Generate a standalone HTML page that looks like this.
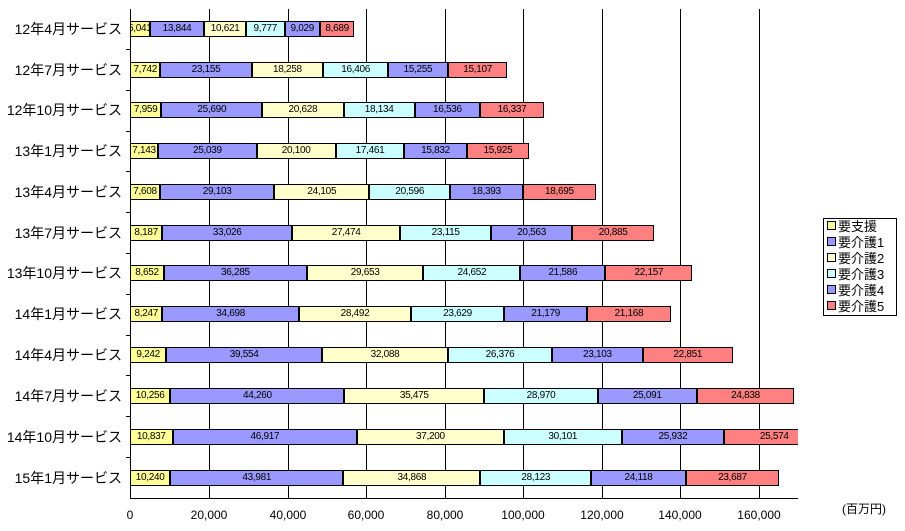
<!DOCTYPE html><html><head><meta charset="utf-8"><style>
body{margin:0;width:905px;height:531px;background:#fff;position:relative;overflow:hidden;font-family:"Liberation Sans","Noto Sans CJK JP",sans-serif}
.g{position:absolute;top:9px;height:490px;width:1px;background:#000}
.ax{position:absolute;background:#000}
.tick{position:absolute;left:126px;width:4px;height:1px;background:#000}
.lab{position:absolute;left:0;width:122px;text-align:right;font-size:14px;line-height:16px;white-space:nowrap}
.bar{position:absolute;left:130px;width:668px;height:16px;overflow:hidden;white-space:nowrap;display:flex}
.bar div{flex:none;height:16px;box-sizing:border-box;border:1px solid #000;font-size:10px;line-height:14px;text-align:center;overflow:hidden;letter-spacing:-0.3px}
.bar div.v{overflow:visible;text-indent:-3px}
.a{background:#ffff99}.b{background:#9999ff}.c{background:#ffffcc}.d{background:#ccffff}.e{background:#9999ff}.f{background:#ff8080}
.xl{position:absolute;top:508px;font-size:12px;width:80px;text-align:center}
.leg{position:absolute;left:823px;top:218px;width:72px;height:96px;border:1px solid #000;background:#fff;font-size:13px}
.leg p{margin:0;height:16px;line-height:16px;padding-left:3px}
.leg span{display:inline-block;width:7px;height:7px;border:1px solid #000;margin-right:2px;vertical-align:1px}
</style></head><body>
<div class="g" style="left:209px"></div><div class="g" style="left:288px"></div><div class="g" style="left:366px"></div><div class="g" style="left:445px"></div><div class="g" style="left:523px"></div><div class="g" style="left:602px"></div><div class="g" style="left:680px"></div><div class="g" style="left:759px"></div>
<div class="ax" style="left:130px;top:9px;width:1px;height:490px"></div>
<div class="ax" style="left:130px;top:498px;width:668px;height:1px"></div>
<div class="tick" style="top:49px"></div><div class="tick" style="top:90px"></div><div class="tick" style="top:131px"></div><div class="tick" style="top:171px"></div><div class="tick" style="top:212px"></div><div class="tick" style="top:253px"></div><div class="tick" style="top:294px"></div><div class="tick" style="top:335px"></div><div class="tick" style="top:375px"></div><div class="tick" style="top:416px"></div><div class="tick" style="top:457px"></div>

<div class="lab" style="top:21px">12年4月サービス</div>
<div class="bar" style="top:21px"><div class="a v" style="width:calc(5041px*0.003934)">5,041</div><div class="b" style="width:calc(13844px*0.003934)">13,844</div><div class="c" style="width:calc(10621px*0.003934)">10,621</div><div class="d" style="width:calc(9777px*0.003934)">9,777</div><div class="e" style="width:calc(9029px*0.003934)">9,029</div><div class="f" style="width:calc(8689px*0.003934)">8,689</div></div>

<div class="lab" style="top:62px">12年7月サービス</div>
<div class="bar" style="top:62px"><div class="a" style="width:calc(7742px*0.003934)">7,742</div><div class="b" style="width:calc(23155px*0.003934)">23,155</div><div class="c" style="width:calc(18258px*0.003934)">18,258</div><div class="d" style="width:calc(16406px*0.003934)">16,406</div><div class="e" style="width:calc(15255px*0.003934)">15,255</div><div class="f" style="width:calc(15107px*0.003934)">15,107</div></div>

<div class="lab" style="top:102px">12年10月サービス</div>
<div class="bar" style="top:102px"><div class="a" style="width:calc(7959px*0.003934)">7,959</div><div class="b" style="width:calc(25690px*0.003934)">25,690</div><div class="c" style="width:calc(20628px*0.003934)">20,628</div><div class="d" style="width:calc(18134px*0.003934)">18,134</div><div class="e" style="width:calc(16536px*0.003934)">16,536</div><div class="f" style="width:calc(16337px*0.003934)">16,337</div></div>

<div class="lab" style="top:143px">13年1月サービス</div>
<div class="bar" style="top:143px"><div class="a" style="width:calc(7143px*0.003934)">7,143</div><div class="b" style="width:calc(25039px*0.003934)">25,039</div><div class="c" style="width:calc(20100px*0.003934)">20,100</div><div class="d" style="width:calc(17461px*0.003934)">17,461</div><div class="e" style="width:calc(15832px*0.003934)">15,832</div><div class="f" style="width:calc(15925px*0.003934)">15,925</div></div>

<div class="lab" style="top:184px">13年4月サービス</div>
<div class="bar" style="top:184px"><div class="a" style="width:calc(7608px*0.003934)">7,608</div><div class="b" style="width:calc(29103px*0.003934)">29,103</div><div class="c" style="width:calc(24105px*0.003934)">24,105</div><div class="d" style="width:calc(20596px*0.003934)">20,596</div><div class="e" style="width:calc(18393px*0.003934)">18,393</div><div class="f" style="width:calc(18695px*0.003934)">18,695</div></div>

<div class="lab" style="top:225px">13年7月サービス</div>
<div class="bar" style="top:225px"><div class="a" style="width:calc(8187px*0.003934)">8,187</div><div class="b" style="width:calc(33026px*0.003934)">33,026</div><div class="c" style="width:calc(27474px*0.003934)">27,474</div><div class="d" style="width:calc(23115px*0.003934)">23,115</div><div class="e" style="width:calc(20563px*0.003934)">20,563</div><div class="f" style="width:calc(20885px*0.003934)">20,885</div></div>

<div class="lab" style="top:265px">13年10月サービス</div>
<div class="bar" style="top:265px"><div class="a" style="width:calc(8652px*0.003934)">8,652</div><div class="b" style="width:calc(36285px*0.003934)">36,285</div><div class="c" style="width:calc(29653px*0.003934)">29,653</div><div class="d" style="width:calc(24652px*0.003934)">24,652</div><div class="e" style="width:calc(21586px*0.003934)">21,586</div><div class="f" style="width:calc(22157px*0.003934)">22,157</div></div>

<div class="lab" style="top:306px">14年1月サービス</div>
<div class="bar" style="top:306px"><div class="a" style="width:calc(8247px*0.003934)">8,247</div><div class="b" style="width:calc(34698px*0.003934)">34,698</div><div class="c" style="width:calc(28492px*0.003934)">28,492</div><div class="d" style="width:calc(23629px*0.003934)">23,629</div><div class="e" style="width:calc(21179px*0.003934)">21,179</div><div class="f" style="width:calc(21168px*0.003934)">21,168</div></div>

<div class="lab" style="top:347px">14年4月サービス</div>
<div class="bar" style="top:347px"><div class="a" style="width:calc(9242px*0.003934)">9,242</div><div class="b" style="width:calc(39554px*0.003934)">39,554</div><div class="c" style="width:calc(32088px*0.003934)">32,088</div><div class="d" style="width:calc(26376px*0.003934)">26,376</div><div class="e" style="width:calc(23103px*0.003934)">23,103</div><div class="f" style="width:calc(22851px*0.003934)">22,851</div></div>

<div class="lab" style="top:388px">14年7月サービス</div>
<div class="bar" style="top:388px"><div class="a" style="width:calc(10256px*0.003934)">10,256</div><div class="b" style="width:calc(44260px*0.003934)">44,260</div><div class="c" style="width:calc(35475px*0.003934)">35,475</div><div class="d" style="width:calc(28970px*0.003934)">28,970</div><div class="e" style="width:calc(25091px*0.003934)">25,091</div><div class="f" style="width:calc(24838px*0.003934)">24,838</div></div>

<div class="lab" style="top:429px">14年10月サービス</div>
<div class="bar" style="top:429px"><div class="a" style="width:calc(10837px*0.003934)">10,837</div><div class="b" style="width:calc(46917px*0.003934)">46,917</div><div class="c" style="width:calc(37200px*0.003934)">37,200</div><div class="d" style="width:calc(30101px*0.003934)">30,101</div><div class="e" style="width:calc(25932px*0.003934)">25,932</div><div class="f" style="width:calc(25574px*0.003934)">25,574</div></div>

<div class="lab" style="top:470px">15年1月サービス</div>
<div class="bar" style="top:470px"><div class="a" style="width:calc(10240px*0.003934)">10,240</div><div class="b" style="width:calc(43981px*0.003934)">43,981</div><div class="c" style="width:calc(34868px*0.003934)">34,868</div><div class="d" style="width:calc(28123px*0.003934)">28,123</div><div class="e" style="width:calc(24118px*0.003934)">24,118</div><div class="f" style="width:calc(23687px*0.003934)">23,687</div></div>

<div class="xl" style="left:90px">0</div><div class="xl" style="left:169px">20,000</div><div class="xl" style="left:248px">40,000</div><div class="xl" style="left:326px">60,000</div><div class="xl" style="left:405px">80,000</div><div class="xl" style="left:483px">100,000</div><div class="xl" style="left:562px">120,000</div><div class="xl" style="left:640px">140,000</div><div class="xl" style="left:719px">160,000</div>
<div style="position:absolute;left:842px;top:500px;font-size:12px">(百万円)</div>

<div class="leg">
<p><span class="a"></span>要支援</p><p><span class="b"></span>要介護1</p><p><span class="c"></span>要介護2</p><p><span class="d"></span>要介護3</p><p><span class="e"></span>要介護4</p><p><span class="f"></span>要介護5</p>
</div>
</body></html>
